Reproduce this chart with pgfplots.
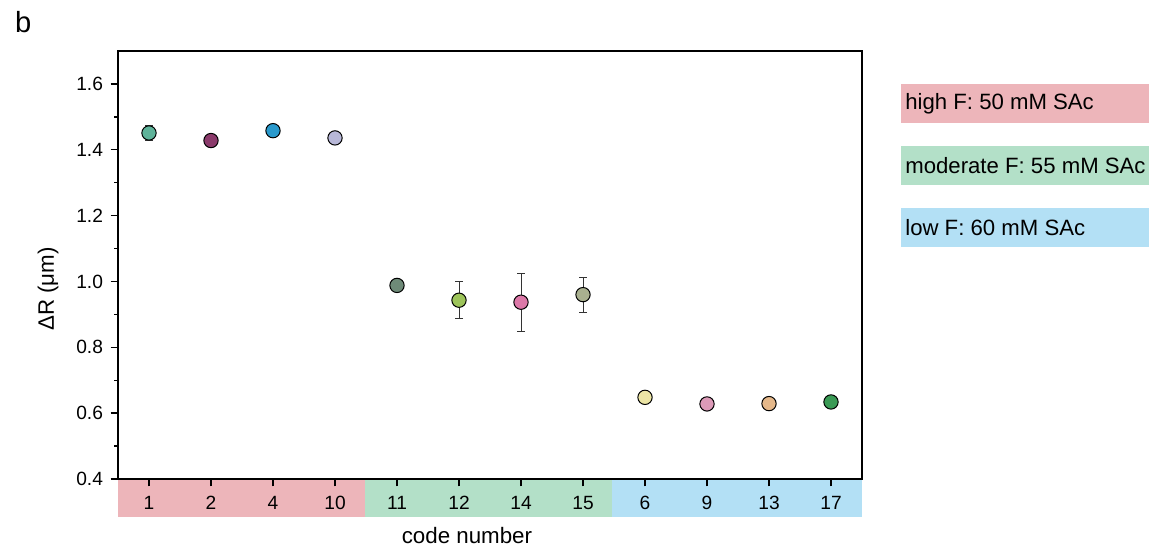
\documentclass[border=0pt]{standalone}
\usepackage{pgfplots}
\pgfplotsset{compat=1.18}
\usepackage{fontspec}
\setmainfont{Liberation Sans}
\definecolor{bandR}{HTML}{EDB5BA}
\definecolor{bandG}{HTML}{B3E0C8}
\definecolor{bandB}{HTML}{B3E0F5}
\definecolor{c1}{HTML}{5FB39A}
\definecolor{c2}{HTML}{8B3A6B}
\definecolor{c4}{HTML}{2999CC}
\definecolor{c10}{HTML}{B8B8D8}
\definecolor{c11}{HTML}{6E8A78}
\definecolor{c12}{HTML}{9DC45A}
\definecolor{c14}{HTML}{DC78A8}
\definecolor{c15}{HTML}{A9B08F}
\definecolor{c6}{HTML}{ECE5A5}
\definecolor{c9}{HTML}{DC9AB8}
\definecolor{c13}{HTML}{E5B88A}
\definecolor{c17}{HTML}{3A9A55}
\begin{document}
\begin{tikzpicture}
\path[use as bounding box] (0,0) rectangle (689.4pt,328.2pt);
% category bands below the axis
\fill[bandR] (70.8pt,18pt) rectangle (219pt,40.8pt);
\fill[bandG] (219pt,18pt) rectangle (367.2pt,40.8pt);
\fill[bandB] (367.2pt,18pt) rectangle (517.2pt,40.8pt);
\begin{axis}[
  at={(70.8pt,40.8pt)}, anchor=south west,
  scale only axis, width=446.4pt, height=256.8pt,
  xmin=-0.5, xmax=11.5, ymin=0.4, ymax=1.7,
  xtick={0,...,11},
  xticklabels={1,2,4,10,11,12,14,15,6,9,13,17},
  ytick={0.4,0.6,...,1.6},
  minor y tick num=1,
  yticklabel style={xshift=-1pt, /pgf/number format/fixed, /pgf/number format/fixed zerofill, /pgf/number format/precision=1},
  /pgf/number format/assume math mode=true,
  tick align=outside,
  xtick pos=bottom, ytick pos=left,
  major tick length=4.5pt, minor tick length=2.2pt,
  every tick/.style={black, line width=0.8pt},
  axis line style={line width=0.9pt},
  tick label style={font=\fontsize{11.5}{13}\selectfont},
  xticklabel style={yshift=-2.5pt},
  label style={font=\fontsize{13.4}{16}\selectfont},
  xlabel={code number},
  xlabel style={at={(axis description cs:0.469,-0.151)}, anchor=base, inner sep=0pt},
  ylabel={ΔR (μm)},
  ylabel style={at={(axis description cs:-0.094,0.444)}, anchor=center},
  clip=false,
  axis on top,
  every axis plot/.append style={only marks, mark=*, mark size=4.3pt,
    error bars/y dir=both, error bars/y explicit,
    error bars/error bar style={line width=0.6pt, color=black!80},
    error bars/error mark options={rotate=90, mark size=2.4pt, line width=0.6pt, color=black!80}},
]
\addplot[mark options={draw=black, line width=0.6pt, fill=c1}] coordinates {(0,1.451) +- (0,0.022)};
\addplot[mark options={draw=black, line width=0.6pt, fill=c2}] coordinates {(1,1.428) +- (0,0.008)};
\addplot[mark options={draw=black, line width=0.6pt, fill=c4}] coordinates {(2,1.458) +- (0,0.008)};
\addplot[mark options={draw=black, line width=0.6pt, fill=c10}] coordinates {(3,1.436) +- (0,0.008)};
\addplot[mark options={draw=black, line width=0.6pt, fill=c11}] coordinates {(4,0.988) +- (0,0.008)};
\addplot[mark options={draw=black, line width=0.6pt, fill=c12}] coordinates {(5,0.943) +- (0,0.057)};
\addplot[mark options={draw=black, line width=0.6pt, fill=c14}] coordinates {(6,0.937) +- (0,0.088)};
\addplot[mark options={draw=black, line width=0.6pt, fill=c15}] coordinates {(7,0.960) +- (0,0.053)};
\addplot[mark options={draw=black, line width=0.6pt, fill=c6}] coordinates {(8,0.648) +- (0,0.006)};
\addplot[mark options={draw=black, line width=0.6pt, fill=c9}] coordinates {(9,0.628) +- (0,0.014)};
\addplot[mark options={draw=black, line width=0.6pt, fill=c13}] coordinates {(10,0.629) +- (0,0.006)};
\addplot[mark options={draw=black, line width=0.6pt, fill=c17}] coordinates {(11,0.634) +- (0,0.006)};
\end{axis}
\node[anchor=base west, font=\fontsize{17.5}{20}\selectfont] at (5.5pt,308.4pt) {b};
% legend boxes
\fill[bandR] (540.6pt,254.4pt) rectangle (689.4pt,277.8pt);
\fill[bandG] (540.6pt,217.2pt) rectangle (689.4pt,240.6pt);
\fill[bandB] (540.6pt,180pt) rectangle (689.4pt,203.4pt);
\node[anchor=west, inner sep=0pt, font=\fontsize{13.3}{15}\selectfont] at (543pt,266.1pt) {high F: 50 mM SAc};
\node[anchor=west, inner sep=0pt, font=\fontsize{13.3}{15}\selectfont] at (543pt,228.9pt) {moderate F: 55 mM SAc};
\node[anchor=west, inner sep=0pt, font=\fontsize{13.3}{15}\selectfont] at (543pt,191.7pt) {low F: 60 mM SAc};
\end{tikzpicture}
\end{document}
